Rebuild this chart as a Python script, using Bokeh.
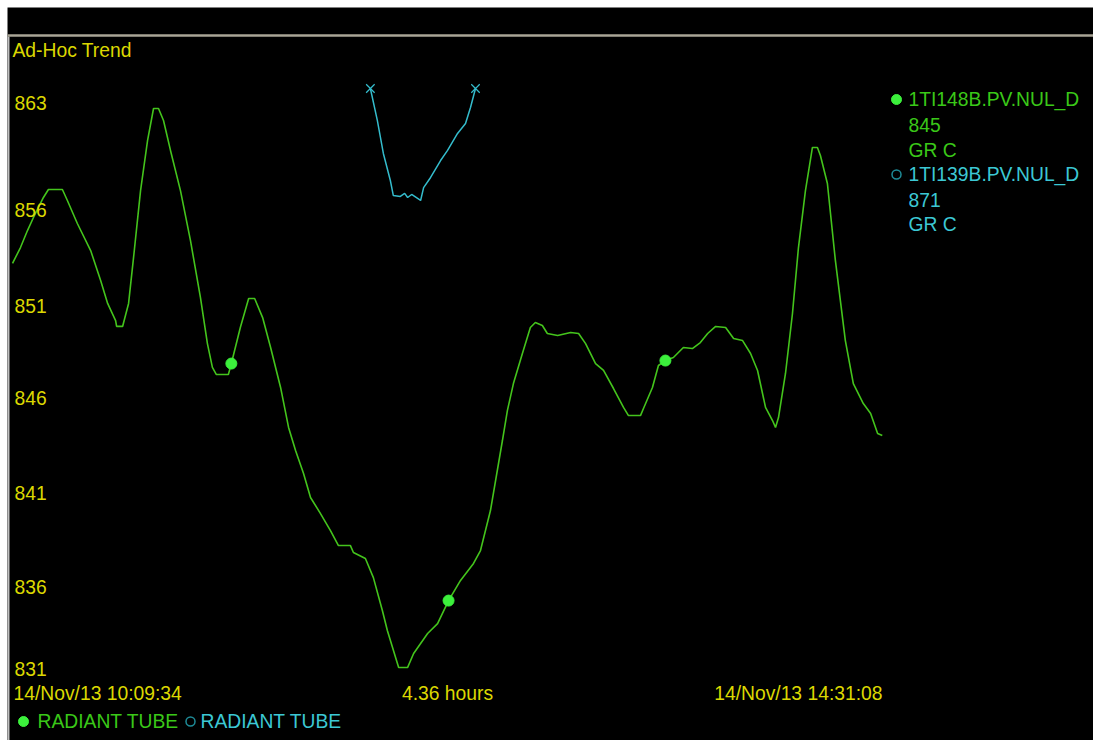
from bokeh.plotting import figure
from bokeh.models import Range1d, Span, Label, ColumnDataSource
from bokeh.core.properties import value
from bokeh.embed import file_html
from bokeh.resources import INLINE

# ---------------- data ----------------
title_text = "Ad-Hoc Trend"
start_label = "14/Nov/13 10:09:34"
end_label = "14/Nov/13 14:31:08"
span_label = "4.36 hours"
duration_min = 261.567          # 10:09:34 -> 14:31:08 in minutes
y_min_val = 831
y_max_val = 863

ytick_labels = ["863", "856", "851", "846", "841", "836", "831"]
ytick_pos = [863.0, 856.9, 851.5, 846.3, 840.9, 835.6, 831.0]

# 1TI148B.PV.NUL_D  (minutes since start, value)
green_t = [0.0, 2.4, 4.5, 6.3, 9.3, 10.8, 15.0, 16.5, 19.5, 23.5, 26.5, 28.6, 31.0, 31.3,
           33.1, 34.9, 36.4, 38.5, 40.6, 42.4, 43.9, 45.4, 47.5, 50.5, 53.5, 56.5, 58.6,
           60.1, 61.3, 64.9, 65.8, 68.5, 71.0, 72.8, 75.2, 77.6, 80.6, 83.0, 85.1, 87.5,
           89.6, 92.6, 95.6, 98.0, 101.6, 102.5, 106.1, 108.5, 111.2, 112.7, 116.1, 118.8,
           120.6, 124.8, 127.8, 131.1, 134.7, 138.6, 140.7, 143.7, 147.3, 148.8, 150.6,
           153.3, 155.7, 157.2, 159.3, 160.8, 163.9, 167.8, 170.2, 172.3, 175.3, 177.7,
           180.7, 183.7, 185.2, 188.8, 189.7, 192.4, 194.2, 196.3, 198.7, 201.7, 204.4,
           206.8, 209.0, 211.4, 214.4, 216.8, 219.5, 221.9, 224.0, 226.4, 228.5, 229.4,
           230.3, 232.4, 234.5, 236.3, 238.4, 240.5, 242.0, 242.9, 245.0, 247.4, 250.4,
           252.8, 255.8, 258.0, 260.1, 261.5]
green_v = [853.9, 854.8, 855.76, 856.5, 857.63, 858.08, 858.08, 857.46, 856.16, 854.63,
           852.94, 851.64, 850.67, 850.34, 850.34, 851.64, 854.24, 858.02, 860.85, 862.66,
           862.66, 861.98, 860.29, 858.02, 855.2, 851.98, 849.37, 848.02, 847.62, 847.62,
           848.24, 850.28, 851.92, 851.92, 850.84, 849.15, 846.89, 844.63, 843.33, 842.02,
           840.67, 839.76, 838.8, 837.95, 837.95, 837.56, 837.22, 836.14, 834.28, 833.15,
           831.06, 831.06, 831.85, 832.98, 833.54, 834.84, 835.98, 836.94, 837.67, 839.93,
           843.89, 845.59, 847.11, 848.81, 850.28, 850.56, 850.39, 849.94, 849.83, 850.0,
           849.94, 849.37, 848.24, 847.85, 846.83, 845.76, 845.3, 845.3, 845.7, 846.89,
           848.13, 848.41, 848.58, 849.15, 849.09, 849.43, 849.94, 850.34, 850.28, 849.66,
           849.54, 848.81, 847.85, 845.76, 845.02, 844.63, 845.19, 847.68, 851.07, 854.8,
           858.02, 860.46, 860.46, 860.0, 858.42, 854.07, 849.54, 847.11, 845.98, 845.42,
           844.29, 844.17]

# 1TI139B.PV.NUL_D
cyan_t = [107.6, 109.7, 111.5, 113.6, 114.5, 116.6, 117.9, 118.8, 120.0, 122.7, 123.6,
          125.7, 128.7, 130.8, 133.8, 136.2, 137.7, 139.2]
cyan_v = [863.79, 861.98, 860.12, 858.59, 857.74, 857.69, 857.86, 857.63, 857.8, 857.46,
          858.19, 858.76, 859.72, 860.29, 861.25, 861.81, 862.72, 863.79]

# cursor read-outs at the quarter points of the green trace
marker_t = [65.8, 131.1, 196.3]
marker_v = [848.24, 834.84, 848.41]

legend_tags = ["1TI148B.PV.NUL_D", "1TI139B.PV.NUL_D"]
legend_values = ["845", "871"]
legend_units = ["GR C", "GR C"]
legend_desc = ["RADIANT TUBE", "RADIANT TUBE"]

# ---------------- layout (pixel) constants ----------------
W, H = 1093, 740
FRAME_L, FRAME_T = 7, 7
X0_PX, X1_PX = 12, 882      # pixel of start / end time
Y_LO_PX, Y_HI_PX = 668, 102  # pixel of 831 / 863


def t_at(px):
    return (px - X0_PX) / (X1_PX - X0_PX) * duration_min


def v_at(py):
    return y_min_val + (Y_LO_PX - py) / (Y_LO_PX - Y_HI_PX) * (y_max_val - y_min_val)


YELLOW = "#dcd800"
GREEN_LINE = "#44c41c"
GREEN_TXT = "#3ac818"
GREEN_DOT = "#3cf03c"
CYAN_LINE = "#34bccc"
CYAN_TXT = "#3cc8d4"
CYAN_RING = "#1e8c98"
FONT = "Liberation Sans"
FS = "19.3px"

p = figure(width=W, height=H, output_backend="svg", toolbar_location=None,
           x_range=Range1d(t_at(FRAME_L), t_at(W)),
           y_range=Range1d(v_at(H), v_at(FRAME_T)),
           x_axis_location=None, y_axis_location=None,
           min_border_left=FRAME_L, min_border_top=FRAME_T,
           min_border_right=0, min_border_bottom=0,
           background_fill_color="black", border_fill_color="white",
           outline_line_color=None)
p.grid.visible = False

# frame decorations
p.add_layout(Span(location=v_at(35), dimension="width", line_color="#a9a596", line_width=2.5))
p.segment(x0=[t_at(8)], y0=[v_at(36)], x1=[t_at(8)], y1=[v_at(H)], line_color="#c0c0c0", line_width=2)

# traces
p.line(green_t, green_v, line_color=GREEN_LINE, line_width=1.6)
p.line(cyan_t, cyan_v, line_color=CYAN_LINE, line_width=1.5)
p.scatter([cyan_t[0], cyan_t[-1]], [cyan_v[0], cyan_v[-1]], marker="x", size=12,
          line_color=CYAN_LINE, line_width=1.2)
p.scatter(marker_t, marker_v, marker="circle", size=11, fill_color=GREEN_DOT, line_color=GREEN_DOT)

# y tick labels
tick_src = ColumnDataSource(dict(y=ytick_pos, x=[t_at(14)] * len(ytick_pos), text=ytick_labels))
p.text(x="x", y="y", text="text", source=tick_src, text_color=YELLOW,
       text_font=value(FONT), text_font_size=FS, text_align="left", text_baseline="middle")


def add_label(px, py, text, color, align="left"):
    p.add_layout(Label(x=t_at(px), y=v_at(py), text=text, text_color=color,
                       text_font=FONT, text_font_size=FS, text_align=align,
                       text_baseline="middle"))


add_label(12, 50, title_text, YELLOW)
add_label(13, 693, start_label, YELLOW)
add_label((X0_PX + X1_PX) / 2, 693, span_label, YELLOW, align="center")
add_label(X1_PX, 693, end_label, YELLOW, align="right")

# bottom legend
p.scatter([t_at(23)], [v_at(721)], marker="circle", size=10, fill_color=GREEN_DOT, line_color=GREEN_DOT)
add_label(37, 721, legend_desc[0], GREEN_TXT)
p.scatter([t_at(190)], [v_at(721)], marker="circle", size=9, fill_color=None,
          line_color=CYAN_RING, line_width=1.5)
add_label(200, 721, legend_desc[1], CYAN_TXT)

# right legend
p.scatter([t_at(896)], [v_at(99)], marker="circle", size=10, fill_color=GREEN_DOT, line_color=GREEN_DOT)
add_label(908, 99, legend_tags[0], GREEN_TXT)
add_label(908, 124, legend_values[0], GREEN_TXT)
add_label(908, 150, legend_units[0], GREEN_TXT)
p.scatter([t_at(896)], [v_at(174)], marker="circle", size=9, fill_color=None,
          line_color=CYAN_RING, line_width=1.5)
add_label(908, 174, legend_tags[1], CYAN_TXT)
add_label(908, 199, legend_values[1], CYAN_TXT)
add_label(908, 224, legend_units[1], CYAN_TXT)

open("out.html", "w").write(file_html(p, INLINE))
